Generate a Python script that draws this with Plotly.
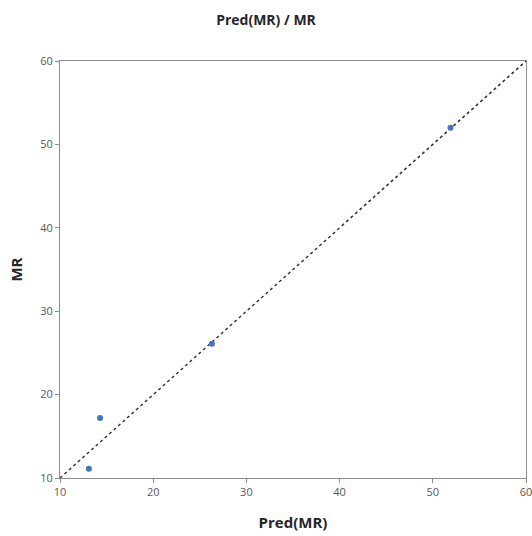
import plotly.graph_objects as go

pred_mr = [14.3, 13.1, 26.3, 51.9]
mr = [17.2, 11.1, 26.1, 52.0]
ref_line = [10, 60]
ticks = [10, 20, 30, 40, 50, 60]

FONT = "Open Sans, Liberation Sans, sans-serif"

fig = go.Figure()
fig.add_trace(go.Scatter(x=ref_line, y=ref_line, mode="lines",
                         line=dict(color="#333333", width=1.5, dash="dot"),
                         showlegend=False, hoverinfo="skip"))
fig.add_trace(go.Scatter(x=pred_mr, y=mr, mode="markers",
                         marker=dict(color="#4472C4", size=6),
                         showlegend=False))

axis_common = dict(range=[10, 60], tickvals=ticks, showgrid=False, zeroline=False,
                   showline=True, linecolor="#8c8c8c", linewidth=1, mirror=True,
                   ticks="outside", ticklen=4, tickcolor="#8c8c8c", automargin=False,
                   ticklabeloverflow="allow",
                   tickfont=dict(family=FONT, size=11, color="#595959"))

fig.update_layout(
    width=532, height=536,
    margin=dict(l=60, r=6, t=61, b=58),
    paper_bgcolor="white", plot_bgcolor="white",
    title=dict(text="<b>Pred(MR) / MR</b>", x=0.5, xanchor="center", y=0.963, yanchor="middle",
               font=dict(family=FONT, size=14, color="#262626")),
    xaxis=dict(**axis_common, title=dict(text="<b>Pred(MR)</b>", standoff=19,
               font=dict(family=FONT, size=15, color="#262626"))),
    yaxis=dict(**axis_common, title=dict(text="<b>MR</b>", standoff=13,
               font=dict(family=FONT, size=15, color="#262626"))),
)
fig.write_html("out.html", config={"displayModeBar": False},
               post_script="document.body.style.margin='0';document.body.style.overflow='hidden';")
